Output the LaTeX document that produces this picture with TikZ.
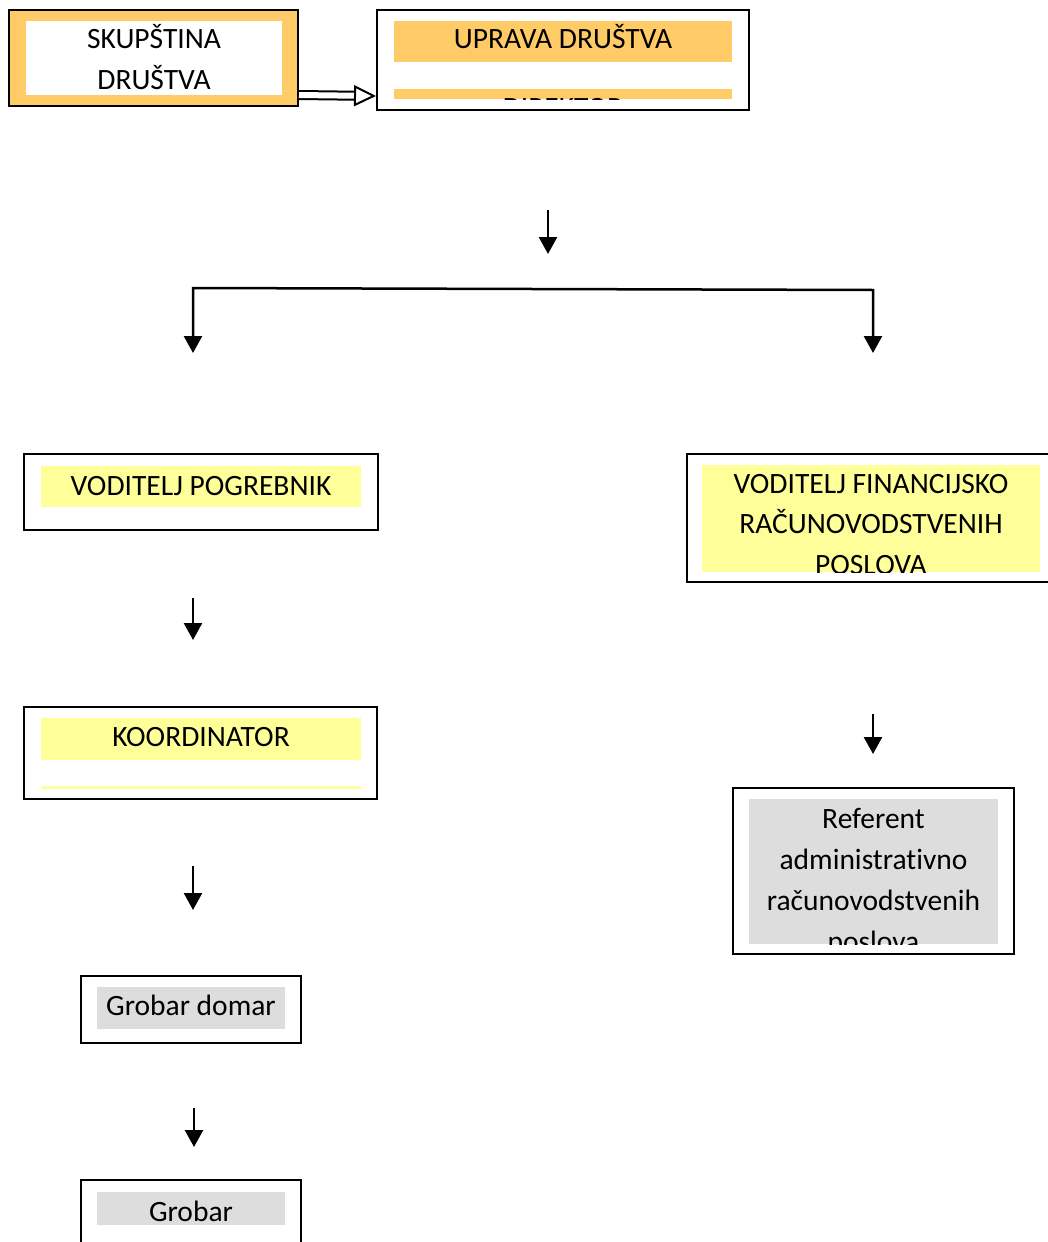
\documentclass[tikz,border=0pt]{standalone}
\usepackage{fontspec}
\setmainfont{Carlito}[Ligatures={NoCommon}]
\usetikzlibrary{arrows.meta,positioning,calc}
\definecolor{zlato}{RGB}{255,203,102}
\definecolor{zuta}{RGB}{255,255,153}
\definecolor{siva}{RGB}{221,221,221}
\tikzset{
    okvir/.style={
        rectangle,
        draw=black,
        line width=2pt,
        inner sep=0pt,
    },
    traka/.style={
        rectangle,
        fill=#1,
        inner sep=0pt,
    },
    natpis/.style={
        anchor=base,
        inner sep=0pt,
        font=\fontsize{29.5}{41}\selectfont,
    },
    vrh/.tip={Triangle[length=17pt,width=18pt]},
    strelica/.style={
        -vrh,
        line width=2.5pt,
    },
    dvojna/.style={
        double,
        double distance=6pt,
        line width=2pt,
        -{Triangle[open,length=22pt,width=21pt,line width=2pt]},
    },
}

\begin{document}
\begin{tikzpicture}[x=1pt,y=-1pt]
\useasboundingbox (0,0) rectangle (1048,1242);

% vrh
\node [okvir,fill=zlato,minimum width=289pt,minimum height=96pt] (skup) at (153.5,58) {};
\node [traka=white,minimum width=256pt,minimum height=74pt] (skupT) at (154,58) {};
\node [natpis] (skup1) at (154,48) {SKUPŠTINA};
\node [natpis] (skup2) at (154,89) {DRUŠTVA};

\node [okvir,minimum width=372pt,minimum height=100pt] (uprava) at (563,60) {};
\node [traka=zlato,minimum width=338pt,minimum height=41pt] (upravaT) at (563,41.5) {};
\node [traka=zlato,minimum width=338pt,minimum height=10pt] (direktorT) at (563,94) {};
\node [natpis] (uprava1) at (563,48) {UPRAVA DRUŠTVA};
\begin{scope}
  \clip (direktorT.south west) rectangle (direktorT.north east);
  \node [natpis] (direktor) at (563,117) {DIREKTOR};
\end{scope}

\draw [dvojna] ($(skup.east)+(0,37)$) -- ($(uprava.west)+(0,36)$);

% grananje
\coordinate (s0a) at (548,210);
\coordinate (s0b) at (548,254);
\draw [strelica] (s0a) -- (s0b);

\coordinate (lijevo) at (193,353);
\coordinate (kutL) at (193,288);
\coordinate (kutD) at (873,290);
\coordinate (desno) at (873,353);
\draw [strelica,vrh-vrh] (lijevo) -- (kutL) -- (kutD) -- (desno);

% lijeva grana
\node [okvir,minimum width=354pt,minimum height=76pt] (pogreb) at (201,492) {};
\node [traka=zuta,minimum width=320pt,minimum height=41pt] (pogrebT) at (201,486.5) {};
\node [natpis] (pogreb1) at (201,495) {VODITELJ POGREBNIK};

\coordinate (s1a) at (193,598);
\coordinate (s1b) at (193,640);
\draw [strelica] (s1a) -- (s1b);

\node [okvir,minimum width=353pt,minimum height=92pt] (koord) at (200.5,753) {};
\node [traka=zuta,minimum width=320pt,minimum height=42pt] (koordT) at (201,739) {};
\node [traka=zuta,minimum width=320pt,minimum height=3.5pt] (koordL) at (201,787.5) {};
\node [natpis] (koord1) at (201,746) {KOORDINATOR};

\coordinate (s2a) at (193,866);
\coordinate (s2b) at (193,910);
\draw [strelica] (s2a) -- (s2b);

\node [okvir,minimum width=220pt,minimum height=67pt] (domar) at (191,1009.5) {};
\node [traka=siva,minimum width=188pt,minimum height=42pt] (domarT) at (191,1008) {};
\node [natpis] (domar1) at (191,1015) {Grobar domar};

\coordinate (s3a) at (194,1108);
\coordinate (s3b) at (194,1147);
\draw [strelica] (s3a) -- (s3b);

\node [okvir,minimum width=220pt,minimum height=80pt] (grobar) at (191,1220) {};
\node [traka=siva,minimum width=188pt,minimum height=33pt] (grobarT) at (191,1208.5) {};
\node [natpis] (grobar1) at (191,1221) {Grobar};

% desna grana
\node [okvir,minimum width=365pt,minimum height=128pt] (fin) at (869.5,518) {};
\node [traka=zuta,minimum width=338pt,minimum height=107pt] (finT) at (871,518.5) {};
\node [natpis] (fin1) at (871,493) {VODITELJ FINANCIJSKO};
\node [natpis] (fin2) at (871,533) {RAČUNOVODSTVENIH};
\begin{scope}
  \clip (finT.south west) rectangle (finT.north east);
  \node [natpis] (fin3) at (871,574) {POSLOVA};
\end{scope}

\coordinate (s4a) at (873,714);
\coordinate (s4b) at (873,754);
\draw [strelica] (s4a) -- (s4b);

\node [okvir,minimum width=281pt,minimum height=166pt] (ref) at (873.5,871) {};
\node [traka=siva,minimum width=249pt,minimum height=145pt] (refT) at (873.5,871.5) {};
\node [natpis] (ref1) at (873.5,828) {Referent};
\node [natpis] (ref2) at (873.5,869) {administrativno};
\node [natpis] (ref3) at (873.5,910) {računovodstvenih};
\begin{scope}
  \clip (refT.south west) rectangle (refT.north east);
  \node [natpis] (ref4) at (873.5,951) {poslova};
\end{scope}
\end{tikzpicture}
\end{document}
